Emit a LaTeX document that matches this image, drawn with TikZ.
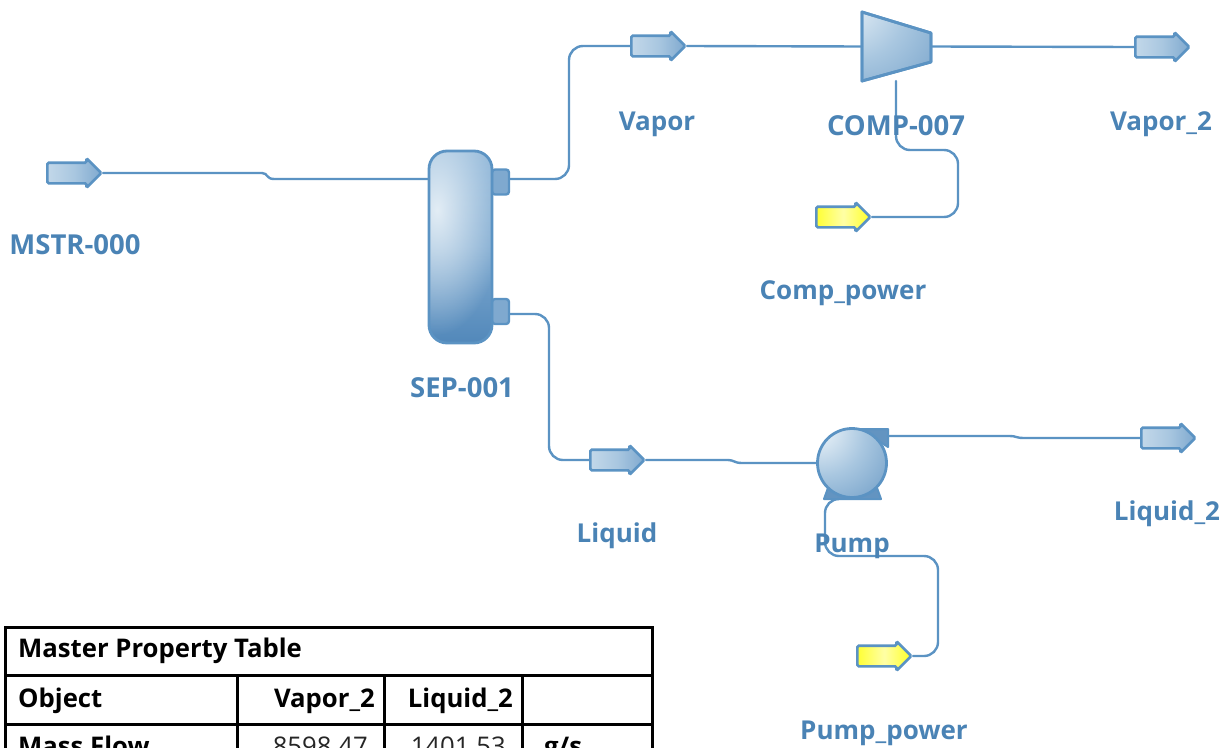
\documentclass[tikz,border=0pt]{standalone}
\usepackage{fontspec}
\setmainfont{Open Sans}
\usetikzlibrary{shapes.arrows,fadings}
\definecolor{flow}{HTML}{5B93C3}
\definecolor{labelblue}{HTML}{4A83B5}
\definecolor{porto}{HTML}{7FA9CF}
\definecolor{hiA}{HTML}{EDF4F9}
\definecolor{hiB}{HTML}{A9C7E0}
\definecolor{hiC}{HTML}{5288BA}
\definecolor{hiD}{HTML}{8FB6D8}
\tikzfading[name=glow, inner color=transparent!10, outer color=transparent!100]
\pgfdeclareradialshading{compshade}{\pgfpoint{-50bp}{46bp}}{color(0bp)=(hiA); color(10bp)=(hiA); color(38bp)=(hiB); color(85bp)=(hiC); color(100bp)=(hiC)}
\pgfdeclareradialshading{pumpshade}{\pgfpoint{-30bp}{30bp}}{color(0bp)=(hiA); color(6bp)=(hiA); color(30bp)=(hiB); color(68bp)=(hiC); color(100bp)=(hiC)}
\tikzset{
  streamarrow/.style={single arrow, draw=flow, line width=2.6pt, inner xsep=0pt, inner ysep=9pt,
    single arrow head extend=4.5pt, minimum height=54pt, anchor=tail, rounded corners=1.5pt},
  matstream/.style={streamarrow, left color=hiB!70!white, right color=porto, middle color=hiB},
  energystream/.style={streamarrow, left color=yellow!80!white, right color=yellow!85!white, middle color=yellow!35!white},
  conn/.style={draw=flow, line width=2.4pt, line cap=round},
  bendconn/.style={conn, rounded corners=14pt},
  tag/.style={text=labelblue, font=\fontsize{26}{30}\selectfont\bfseries, inner sep=0pt},
  tagcaps/.style={text=labelblue, font=\fontsize{27.5}{30}\selectfont\bfseries, inner sep=0pt},
  port/.style={draw=flow, fill=porto, line width=2.4pt, rounded corners=3pt, minimum width=17pt, inner sep=0pt},
  equip/.style={draw=flow, line width=2.8pt},
  ghost/.style={inner sep=0pt, minimum width=69pt, minimum height=69pt},
  tabline/.style={draw=black, line width=3pt},
  tabb/.style={font=\fontsize{25.7}{30}\selectfont\bfseries, inner sep=0pt, text=black},
  tabr/.style={font=\fontsize{25.7}{30}\selectfont, inner sep=0pt, text=black!85},
}
\begin{document}
\begin{tikzpicture}[x=1pt,y=-1pt]
\useasboundingbox (0,0) rectangle (1231,747);
\clip (0,0) rectangle (1231,747);

% stream arrows
\node[matstream] (mstr) at (46,173) {};
\node[matstream] (vapor) at (630,46) {};
\node[matstream] (vapor2) at (1134,47) {};
\node[matstream] (liquid) at (589,460) {};
\node[matstream] (liquid2) at (1140,438) {};
\node[energystream] (comppower) at (815,217) {};
\node[energystream] (pumppower) at (856,656) {};

% separator
\node[port, minimum height=25pt] (sepv) at (500.5,182) {};
\node[port, minimum height=25pt] (sepl) at (500.5,311.5) {};
\node[inner sep=0pt, rounded corners=18pt, minimum width=63pt, minimum height=192pt, top color=hiD, bottom color=hiC, middle color=hiD!75!hiC] (sep) at (460.5,247) {};
\begin{scope}
  \clip[rounded corners=18pt] (429,151) rectangle (492,343);
  \fill[hiA, path fading=glow] (437,210) ellipse (66 and 125);
\end{scope}
\draw[equip, rounded corners=18pt] (429,151) rectangle (492,343);

% compressor
\path[equip, shading=compshade, line join=round] (862,12) -- (931,33) -- (931,62) -- (862,81) -- cycle;
\draw[equip, line join=round] (862,12) -- (931,33) -- (931,62) -- (862,81) -- cycle;
\node[ghost] (comp) at (896.5,46.5) {};

% pump
\fill[hiC!90!white, draw=flow, line width=2pt, line join=round] (860,429) -- (888,429) -- (888,447) -- cycle;
\fill[hiC!90!white, draw=flow, line width=2pt, line join=round] (828,488) -- (877,488) -- (881,499) -- (824,499) -- cycle;
\node[equip, circle, shading=pumpshade, minimum size=69pt, inner sep=0pt] (pump) at (852,463) {};

% connectors
\draw[conn] (mstr.tip) -- (262,173) .. controls (268,173) and (266,179) .. (274,179) -- (sep.west |- 0,179);
\draw[bendconn] (sepv.east |- 0,179) -- (569,179) -- (569,46) -- (vapor.tail);
\draw[conn] (vapor.tip) -- (comp.west);
\draw[conn] (comp.east) -- (vapor2.tail);
\draw[bendconn] (sepl.east |- 0,314) -- (549,314) -- (549,460) -- (liquid.tail);
\draw[conn] (liquid.tip) -- (728,460) .. controls (734,460) and (734,463) .. (742,463) -- (pump.west);
\draw[conn] (888,436) -- (1010,436) .. controls (1016,436) and (1016,438) .. (1024,438) -- (liquid2.tail);
\draw[bendconn] (comppower.tip) -- (958,217) -- (958,150) -- (896,150) -- (896,81);
\draw[bendconn] (pumppower.tip) -- (938,656) -- (938,556) -- (825,556) -- (825,499) -- (838,499);

% labels
\node[tagcaps] (lmstr) at (75,245) {MSTR-000};
\node[tagcaps] (lsep) at (462,388) {SEP-001};
\node[tag] (lvapor) at (657,124) {Vapor};
\node[tagcaps] (lcomp) at (896,126) {COMP-007};
\node[tag] (lvapor2) at (1161,124) {Vapor\_2};
\node[tag] (lcpow) at (843,293) {Comp\_power};
\node[tag] (lliq) at (617,536) {Liquid};
\node[tag] (lpump) at (852,546) {Pump};
\node[tag] (lliq2) at (1167,514) {Liquid\_2};
\node[tag] (lppow) at (884,733) {Pump\_power};

% table
\draw[tabline] (5,627) rectangle (652,760);
\draw[tabline] (5,675) -- (652,675);
\draw[tabline] (5,724) -- (652,724);
\draw[tabline] (237,675) -- (237,760);
\draw[tabline] (384,675) -- (384,760);
\draw[tabline] (522,675) -- (522,760);
\node[tabb, anchor=base west] (t0) at (18,657) {Master Property Table};
\node[tabb, anchor=base west] (t1) at (18,707) {Object};
\node[tabb, anchor=base east] (t2) at (375,707) {Vapor\_2};
\node[tabb, anchor=base east] (t3) at (513,707) {Liquid\_2};
\node[tabb, anchor=base west] (t4) at (18,755) {Mass Flow};
\node[tabr, anchor=base east] (t5) at (368,755) {8598.47};
\node[tabr, anchor=base east] (t6) at (506,755) {1401.53};
\node[tabb, anchor=base west] (t7) at (544,755) {g/s};
\end{tikzpicture}
\end{document}
